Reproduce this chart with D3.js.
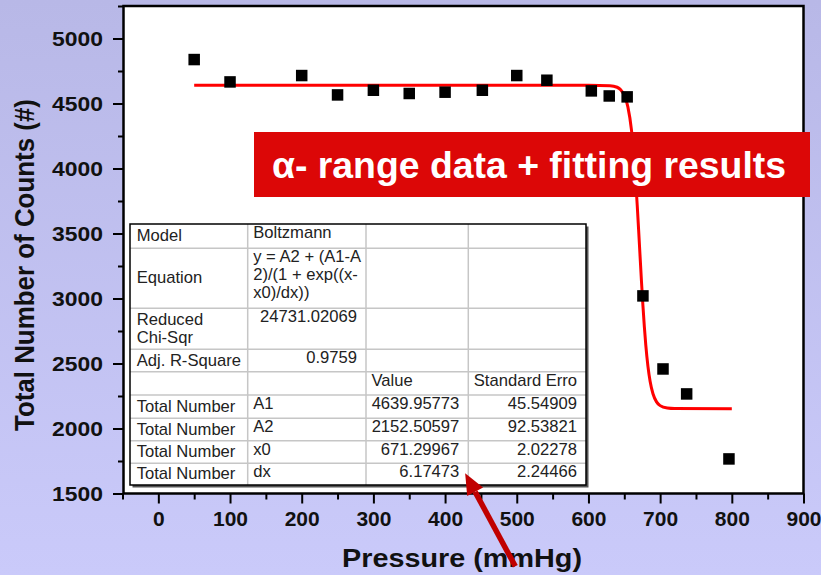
<!DOCTYPE html>
<html><head><meta charset="utf-8">
<script src="https://cdn.jsdelivr.net/npm/d3@7"></script>
<style>
html,body{margin:0;padding:0;}
body{width:821px;height:575px;overflow:hidden;}
text{font-family:"Liberation Sans",Arial,sans-serif;}
</style></head><body>
<svg id="chart" width="821" height="575"></svg>
<script>
// ---- data ----
const pressure = [50, 100, 200, 250, 300, 350, 400, 452, 500, 542, 604, 629, 654, 676, 704, 737, 796];
const counts   = [4838, 4666, 4715, 4566, 4602, 4577, 4587, 4602, 4715, 4679, 4597, 4558, 4551, 3020, 2458, 2266, 1766];
// Boltzmann fit line (values along the red curve)
const fitX = [50, 600, 630, 640, 645, 650, 655, 660, 663, 666, 668, 670, 672, 674, 676, 678, 680, 683, 686, 690, 695, 700, 710, 720, 800];
const fitY = [4640, 4640, 4637, 4625, 4605, 4563, 4474, 4297, 4125, 3899, 3721, 3527, 3326, 3129, 2945, 2781, 2641, 2478, 2363, 2267, 2205, 2176, 2157, 2153, 2152.5];
const xTicks = [0, 100, 200, 300, 400, 500, 600, 700, 800, 900];
const xMinorTicks = [-50, 50, 150, 250, 350, 450, 550, 650, 750, 850];
const yTicks = [1500, 2000, 2500, 3000, 3500, 4000, 4500, 5000];
const yMinorTicks = [1750, 2250, 2750, 3250, 3750, 4250, 4750, 5250];
const xLabel = "Pressure (mmHg)";
const yLabel = "Total Number of Counts (#)";
const bannerText = "α- range data + fitting results";
const tableRows = [
  ["Model", "Boltzmann", "", ""],
  ["Equation", "y = A2 + (A1-A\n2)/(1 + exp((x-\nx0)/dx))", "", ""],
  ["Reduced\nChi-Sqr", "24731.02069", "", ""],
  ["Adj. R-Square", "0.9759", "", ""],
  ["", "", "Value", "Standard Erro"],
  ["Total Number", "A1", "4639.95773", "45.54909"],
  ["Total Number", "A2", "2152.50597", "92.53821"],
  ["Total Number", "x0", "671.29967", "2.02278"],
  ["Total Number", "dx", "6.17473", "2.24466"]
];

// ---- layout ----
const W = 821, H = 575;
const svg = d3.select("#chart");
const defs = svg.append("defs");
const grad = defs.append("linearGradient").attr("id","bg").attr("x1",0).attr("y1",0).attr("x2",0).attr("y2",1);
grad.append("stop").attr("offset","0%").attr("stop-color","#B8B8E7");
grad.append("stop").attr("offset","100%").attr("stop-color","#CACAFA");
svg.append("rect").attr("width",W).attr("height",H).attr("fill","url(#bg)");

const x = d3.scaleLinear().domain([-50, 900]).range([122.5, 803.5]);
const y = d3.scaleLinear().domain([1500, 5250]).range([493.5, 6]);

// plot frame
svg.append("rect")
  .attr("x", x(-50) + 1).attr("y", y(5250))
  .attr("width", x(900) - x(-50) - 1).attr("height", y(1500) - y(5250))
  .attr("fill","#fff").attr("stroke","#000").attr("stroke-width",2.5);

// axes
function styleAxis(g){
  g.select(".domain").remove();
  g.selectAll(".tick line").attr("stroke","#000").attr("stroke-width",2);
  g.selectAll(".tick text").attr("fill","#111").attr("font-weight","bold")
    .attr("font-family","'Liberation Sans',Arial,sans-serif");
}
const gx = svg.append("g").attr("transform",`translate(0,${y(1500)})`)
  .call(d3.axisBottom(x).tickValues(xTicks).tickSize(10).tickPadding(8).tickFormat(d3.format("d")));
styleAxis(gx); gx.selectAll(".tick text").attr("font-size",21);
const gxm = svg.append("g").attr("transform",`translate(0,${y(1500)})`)
  .call(d3.axisBottom(x).tickValues(xMinorTicks).tickSize(6).tickFormat(""));
styleAxis(gxm);
const gy = svg.append("g").attr("transform",`translate(${x(-50)+1.5},0)`)
  .call(d3.axisLeft(y).tickValues(yTicks).tickSize(11).tickPadding(10).tickFormat(d3.format("d")));
styleAxis(gy); gy.selectAll(".tick text").attr("font-size",21)
  .attr("textLength",51).attr("lengthAdjust","spacingAndGlyphs");
const gym = svg.append("g").attr("transform",`translate(${x(-50)+1.5},0)`)
  .call(d3.axisLeft(y).tickValues(yMinorTicks).tickSize(6).tickFormat(""));
styleAxis(gym);

// axis labels
svg.append("text").attr("x", 462).attr("y", 566.5).attr("text-anchor","middle")
  .attr("font-size",25).attr("font-weight","bold").attr("fill","#111")
  .attr("textLength",240).attr("lengthAdjust","spacingAndGlyphs").text(xLabel);
svg.append("text").attr("transform","translate(34,265) rotate(-90)").attr("text-anchor","middle")
  .attr("font-size",27).attr("font-weight","bold").attr("fill","#111")
  .attr("textLength",332).attr("lengthAdjust","spacingAndGlyphs").text(yLabel);

// fit curve
const fitData = fitX.map((v,i)=>[v, fitY[i]]);
svg.append("path").datum(fitData)
  .attr("d", d3.line().x(d=>x(d[0])).y(d=>y(d[1])).curve(d3.curveMonotoneX))
  .attr("fill","none").attr("stroke","#FF0000").attr("stroke-width",3);

// points
const ms = 11.5;
svg.append("g").selectAll("rect").data(pressure.map((p,i)=>[p, counts[i]])).join("rect")
  .attr("x", d=>x(d[0]) - ms/2).attr("y", d=>y(d[1]) - ms/2)
  .attr("width", ms).attr("height", ms).attr("fill","#000");

// banner
svg.append("rect").attr("x",254).attr("y",132).attr("width",556).attr("height",65).attr("fill","#DC0707");
svg.append("text").attr("x",272).attr("y",178).attr("font-size",36).attr("font-weight","bold")
  .attr("fill","#fff").attr("textLength",514).attr("lengthAdjust","spacingAndGlyphs").text(bannerText);

// table
const colX = [130, 247.7, 366, 468.3, 586];
const rowY = [224, 248.3, 308.3, 349.3, 371.7, 395, 418.3, 440.7, 463.3, 485];
const tg = svg.append("g");
tg.append("rect").attr("x",colX[0]+2.5).attr("y",rowY[0]+2.5).attr("width",colX[4]-colX[0]).attr("height",rowY[9]-rowY[0]).attr("fill","#555");
tg.append("rect").attr("x",colX[0]).attr("y",rowY[0]).attr("width",colX[4]-colX[0]).attr("height",rowY[9]-rowY[0]).attr("fill","#fff");
rowY.slice(1,-1).forEach(v=>tg.append("line").attr("x1",colX[0]).attr("x2",colX[4]).attr("y1",v).attr("y2",v).attr("stroke","#C6C6C6").attr("stroke-width",1.5));
colX.slice(1,-1).forEach(v=>tg.append("line").attr("x1",v).attr("x2",v).attr("y1",rowY[0]).attr("y2",rowY[9]).attr("stroke","#C6C6C6").attr("stroke-width",1.5));
tg.append("rect").attr("x",colX[0]).attr("y",rowY[0]).attr("width",colX[4]-colX[0]).attr("height",rowY[9]-rowY[0]).attr("fill","none").attr("stroke","#000").attr("stroke-width",1.5);
const isNum = s => s !== "" && !isNaN(+s);
tableRows.forEach((row, r)=>{
  row.forEach((cell, c)=>{
    if(!cell) return;
    const lines = cell.split("\n");
    const top = rowY[r], bot = rowY[r+1];
    const lh = 18;
    const num = isNum(cell);
    const tx = num ? colX[c+1]-9 : colX[c] + (c===0 ? 6.7 : 5.5);
    const by0 = c === 0 ? (top+bot)/2 - (lines.length-1)*lh/2 + 5 : top + 14;
    const t = tg.append("text").attr("text-anchor", num ? "end" : "start")
      .attr("font-size",16.6).attr("fill","#222");
    lines.forEach((ln, i)=>{
      t.append("tspan").attr("x", tx).attr("y", by0 + i*lh).text(ln);
    });
  });
});

// arrow annotation (data coordinates)
const arrowTip = [428, 1655], arrowTail = [498, 940];
const ax1 = x(arrowTail[0]), ay1 = y(arrowTail[1]), ax2 = x(arrowTip[0]), ay2 = y(arrowTip[1]);
const ang = Math.atan2(ay2-ay1, ax2-ax1);
const hl = 21, hw = 9;
const bx = ax2 - hl*Math.cos(ang), byy = ay2 - hl*Math.sin(ang);
svg.append("line").attr("x1",ax1).attr("y1",ay1).attr("x2",bx).attr("y2",byy)
  .attr("stroke","#C00000").attr("stroke-width",5.5);
svg.append("path").attr("d", d3.line()([
  [ax2, ay2],
  [bx + hw*Math.sin(ang), byy - hw*Math.cos(ang)],
  [bx - hw*Math.sin(ang), byy + hw*Math.cos(ang)]
])+"Z").attr("fill","#C00000");
</script>
</body></html>
